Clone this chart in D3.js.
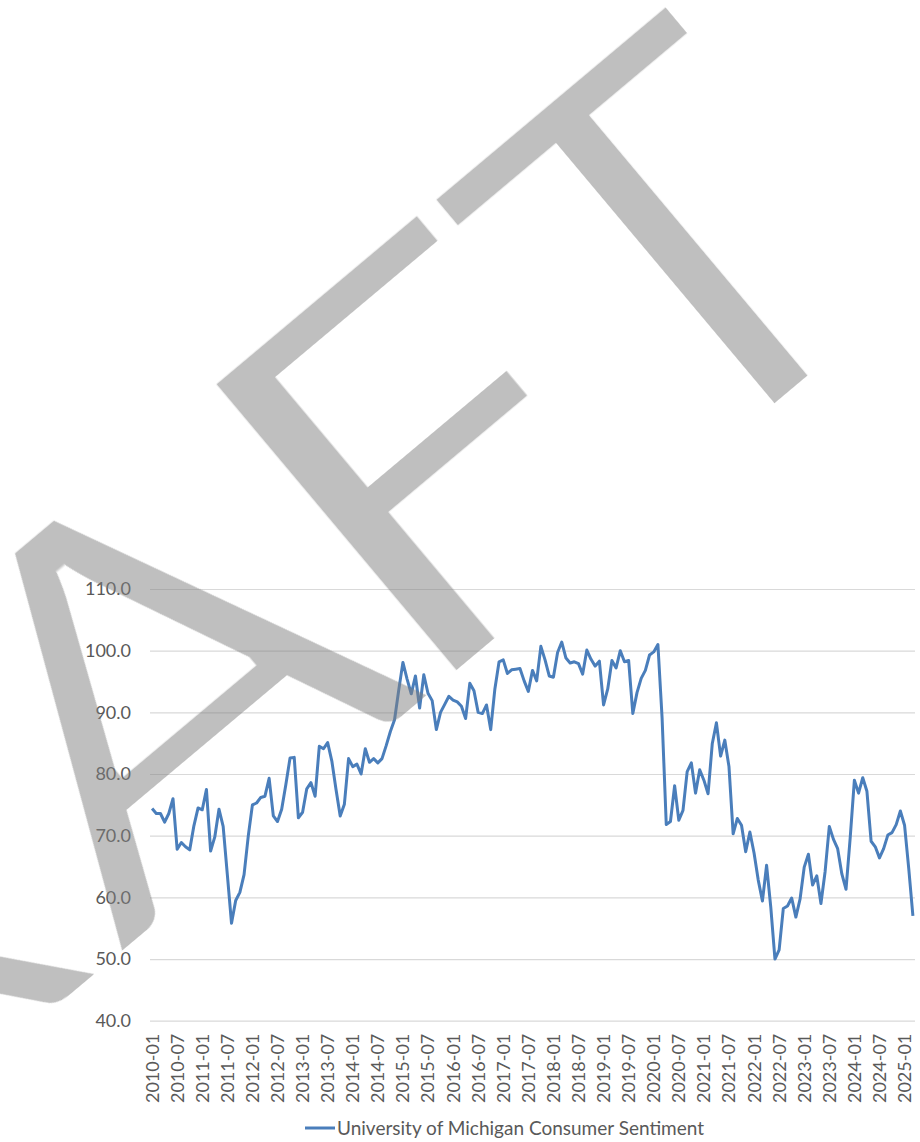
<!DOCTYPE html>
<html>
<head>
<meta charset="utf-8">
<script src="https://cdn.jsdelivr.net/npm/d3@7"></script>
<style>
  html, body { margin: 0; padding: 0; background: #ffffff; }
  svg { display: block; }
</style>
</head>
<body>
<svg id="chart" width="920" height="1142"></svg>
<script>
// University of Michigan Consumer Sentiment, monthly index values
const years = [2010, 2011, 2012, 2013, 2014, 2015, 2016, 2017, 2018, 2019, 2020, 2021, 2022, 2023, 2024, 2025];
const sentiment2010 = [74.4, 73.6, 73.6, 72.2, 73.6, 76.0, 67.8, 68.9, 68.2, 67.7, 71.6, 74.5];
const sentiment2011 = [74.2, 77.5, 67.5, 69.8, 74.3, 71.5, 63.7, 55.8, 59.5, 60.8, 63.7, 69.9];
const sentiment2012 = [75.0, 75.3, 76.2, 76.4, 79.3, 73.2, 72.3, 74.3, 78.3, 82.6, 82.7, 72.9];
const sentiment2013 = [73.8, 77.6, 78.6, 76.4, 84.5, 84.1, 85.1, 82.1, 77.5, 73.2, 75.1, 82.5];
const sentiment2014 = [81.2, 81.6, 80.0, 84.1, 81.9, 82.5, 81.8, 82.5, 84.6, 86.9, 88.8, 93.6];
const sentiment2015 = [98.1, 95.4, 93.0, 95.9, 90.7, 96.1, 93.1, 91.9, 87.2, 90.0, 91.3, 92.6];
const sentiment2016 = [92.0, 91.7, 91.0, 89.0, 94.7, 93.5, 90.0, 89.8, 91.2, 87.2, 93.8, 98.2];
const sentiment2017 = [98.5, 96.3, 96.9, 97.0, 97.1, 95.1, 93.4, 96.8, 95.1, 100.7, 98.5, 95.9];
const sentiment2018 = [95.7, 99.7, 101.4, 98.8, 98.0, 98.2, 97.9, 96.2, 100.1, 98.6, 97.5, 98.3];
const sentiment2019 = [91.2, 93.8, 98.4, 97.2, 100.0, 98.2, 98.4, 89.8, 93.2, 95.5, 96.8, 99.3];
const sentiment2020 = [99.8, 101.0, 89.1, 71.8, 72.3, 78.1, 72.5, 74.1, 80.4, 81.8, 76.9, 80.7];
const sentiment2021 = [79.0, 76.8, 84.9, 88.3, 82.9, 85.5, 81.2, 70.3, 72.8, 71.7, 67.4, 70.6];
const sentiment2022 = [67.2, 62.8, 59.4, 65.2, 58.4, 50.0, 51.5, 58.2, 58.6, 59.9, 56.8, 59.7];
const sentiment2023 = [64.9, 67.0, 62.0, 63.5, 59.0, 64.2, 71.5, 69.4, 67.9, 63.8, 61.3, 69.7];
const sentiment2024 = [79.0, 76.9, 79.4, 77.2, 69.1, 68.2, 66.4, 67.9, 70.1, 70.5, 71.8, 74.0];
const sentiment2025 = [71.7, 64.7, 57.0];
const sentimentByYear = [sentiment2010, sentiment2011, sentiment2012, sentiment2013, sentiment2014,
  sentiment2015, sentiment2016, sentiment2017, sentiment2018, sentiment2019, sentiment2020,
  sentiment2021, sentiment2022, sentiment2023, sentiment2024, sentiment2025];

const xTickLabels = ["2010-01", "2010-07", "2011-01", "2011-07", "2012-01", "2012-07", "2013-01", "2013-07",
  "2014-01", "2014-07", "2015-01", "2015-07", "2016-01", "2016-07", "2017-01", "2017-07", "2018-01",
  "2018-07", "2019-01", "2019-07", "2020-01", "2020-07", "2021-01", "2021-07", "2022-01", "2022-07",
  "2023-01", "2023-07", "2024-01", "2024-07", "2025-01"];
const yTickValues = [40, 50, 60, 70, 80, 90, 100, 110];
const seriesName = "University of Michigan Consumer Sentiment";
const watermarkWord = "DRAFT";

// Flatten into one record per month, labelled YYYY-MM
const points = [];
sentimentByYear.forEach((vals, i) => {
  vals.forEach((v, m) => {
    points.push({ month: `${years[i]}-${String(m + 1).padStart(2, "0")}`, value: v });
  });
});

const FONT = "Lato, 'Open Sans', sans-serif";
const TEXT_COLOR = "#595959";
const GRID_COLOR = "#d9d9d9";
const LINE_COLOR = "#4a7ebb";

const svg = d3.select("#chart");
const plot = { left: 150, right: 915, top: 589, bottom: 1020.7 };

const x = d3.scaleBand()
  .domain(points.map(d => d.month))
  .range([plot.left, plot.right])
  .paddingInner(0).paddingOuter(0);
const xc = m => x(m) + x.bandwidth() / 2;

const y = d3.scaleLinear()
  .domain([40, 110])
  .range([plot.bottom, plot.top]);

// Horizontal gridlines
const grid = svg.append("g")
  .attr("transform", `translate(${plot.left},0)`)
  .call(d3.axisLeft(y).tickValues(yTickValues).tickSize(-(plot.right - plot.left)).tickFormat(""));
grid.select(".domain").remove();
grid.selectAll(".tick line").attr("stroke", GRID_COLOR).attr("stroke-width", 1.2);

// Y axis labels
const yAxis = svg.append("g")
  .attr("transform", `translate(${plot.left},0)`)
  .call(d3.axisLeft(y).tickValues(yTickValues).tickSize(0).tickPadding(19).tickFormat(d3.format(".1f")));
yAxis.select(".domain").remove();
yAxis.selectAll("text")
  .attr("fill", TEXT_COLOR)
  .style("font-family", FONT)
  .style("font-size", "18px");

// X axis labels, rotated to read upward
const xAxis = svg.append("g")
  .attr("transform", `translate(0,${plot.bottom})`)
  .call(d3.axisBottom(x).tickValues(xTickLabels).tickSize(0).tickFormat(d => d));
xAxis.select(".domain").remove();
xAxis.selectAll(".tick text")
  .attr("fill", TEXT_COLOR)
  .style("font-family", FONT)
  .style("font-size", "18px")
  .attr("text-anchor", "end")
  .attr("x", 0)
  .attr("y", 0)
  .attr("dy", "0.36em")
  .attr("transform", "translate(0,13) rotate(-90)");

// Series line
const line = d3.line()
  .x(d => xc(d.month))
  .y(d => y(d.value));

svg.append("path")
  .datum(points)
  .attr("fill", "none")
  .attr("stroke", LINE_COLOR)
  .attr("stroke-width", 3)
  .attr("stroke-linejoin", "round")
  .attr("d", line);

// Legend
const legend = svg.append("g").attr("transform", "translate(305,1128)");
legend.append("line")
  .attr("x1", 0).attr("x2", 30).attr("y1", 0).attr("y2", 0)
  .attr("stroke", LINE_COLOR).attr("stroke-width", 3);
legend.append("text")
  .attr("x", 32).attr("y", 0).attr("dy", "0.36em")
  .attr("fill", TEXT_COLOR)
  .style("font-family", FONT)
  .style("font-size", "19px")
  .text(seriesName);

// Diagonal watermark laid over the chart; strokes thinned with an erode filter
const defs = svg.append("defs");
defs.append("filter")
  .attr("id", "thin")
  .attr("x", "-10%").attr("y", "-10%").attr("width", "120%").attr("height", "120%")
  .append("feMorphology")
  .attr("operator", "erode")
  .attr("radius", 5);

const mark = svg.append("g")
  .attr("transform", "translate(518.6,617.9) rotate(-40)")
  .attr("filter", "url(#thin)");
const markLetters = [
  { text: watermarkWord.slice(0, 2), x: -480, sx: 1.12, anchor: "end" },
  { text: watermarkWord[2], x: -456, sx: 1.16, anchor: "start" },
  { text: watermarkWord[3], x: -124, sx: 1.15, anchor: "start" },
  { text: watermarkWord[4], x: 187, sx: 1.03, anchor: "start" }
];
mark.selectAll("g")
  .data(markLetters)
  .join("g")
  .attr("transform", d => `scale(${d.sx},1)`)
  .append("text")
  .attr("x", d => d.x)
  .attr("y", 5)
  .attr("text-anchor", d => d.anchor)
  .style("font-family", "Lato, sans-serif")
  .style("font-size", "535px")
  .attr("fill", "#808080")
  .attr("fill-opacity", 0.5)
  .text(d => d.text);
</script>
</body>
</html>
